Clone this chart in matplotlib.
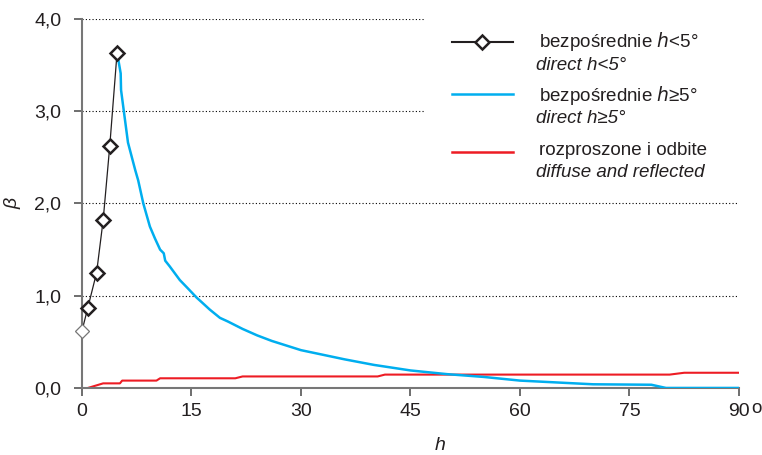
import matplotlib.pyplot as plt
import numpy as np

plt.rcParams['font.family'] = ['Liberation Sans', 'DejaVu Sans']

# bezpośrednie h<5°
h_low = [0.0, 0.8, 2.0, 2.9, 3.8, 4.8]
beta_low = [0.62, 0.87, 1.25, 1.82, 2.62, 3.63]

# bezpośrednie h>=5°
h_dir = [4.95, 5.3, 5.35, 5.9, 6.3, 7.3, 7.7, 8.4, 9.3, 10.0, 10.7, 11.2, 11.4,
         12.0, 13.4, 14.5, 15.7, 16.4, 17.5, 18.9, 20.0, 22.0, 24.0, 26.0, 28.0,
         30.0, 33.0, 36.0, 40.0, 45.0, 50.0, 55.0, 60.0, 65.0, 70.0, 78.0, 80.0, 90.0]
beta_dir = [3.57, 3.41, 3.23, 2.90, 2.66, 2.36, 2.25, 2.00, 1.75, 1.62, 1.50, 1.46,
            1.38, 1.32, 1.17, 1.08, 0.98, 0.93, 0.85, 0.76, 0.72, 0.64, 0.57, 0.51,
            0.46, 0.41, 0.36, 0.31, 0.25, 0.19, 0.15, 0.12, 0.08, 0.06, 0.04, 0.035,
            0.0, 0.0]

# rozproszone i odbite
h_dif = [0.8, 2.9, 5.2, 5.5, 10.2, 10.7, 21.0, 22.0, 40.5, 41.5, 80.5, 82.5, 90.0]
beta_dif = [0.0, 0.05, 0.05, 0.08, 0.08, 0.105, 0.105, 0.125, 0.125, 0.145, 0.145,
            0.165, 0.165]

x_ticks = [0, 15, 30, 45, 60, 75, 90]
y_ticks = [0.0, 1.0, 2.0, 3.0, 4.0]

blue = '#00AEEF'
red = '#ED1C24'
dark = '#231F20'

fig = plt.figure(figsize=(7.62, 4.55), dpi=100)
ax = fig.add_axes([0.1076, 0.1473, 0.8622, 0.811])

# siatka: górne linie kończą się przed legendą
ax.hlines([1.0, 2.0], 0, 90, colors='k', linestyles=(0, (1, 2)), linewidth=0.8, zorder=0)
ax.hlines([3.0, 4.0], 0, 47, colors='k', linestyles=(0, (1, 2)), linewidth=0.8, zorder=0)

ax.plot(h_dif, beta_dif, color=red, linewidth=1.5, zorder=2)
ax.plot(h_dir, beta_dir, color=blue, linewidth=1.8, zorder=3)
ax.plot(h_low, beta_low, color=dark, linewidth=0.9, zorder=4)
ax.plot(h_low[1:], beta_low[1:], linestyle='none', marker='D', markersize=7,
        markerfacecolor='white', markeredgecolor=dark, markeredgewidth=1.8,
        zorder=5, clip_on=False)
ax.plot(h_low[:1], beta_low[:1], linestyle='none', marker='D', markersize=7,
        markerfacecolor='white', markeredgecolor='#777777', markeredgewidth=0.9,
        zorder=5, clip_on=False)

ax.set_xlim(0, 90)
ax.set_ylim(0, 4)
ax.set_xticks(x_ticks)
ax.set_xticklabels([str(t) for t in x_ticks])
ax.set_yticks(y_ticks)
ax.set_yticklabels([f'{t:.1f}'.replace('.', ',') for t in y_ticks])
ax.tick_params(axis='both', labelsize=14, labelcolor=dark, color='#555555',
               length=6, width=1.2, direction='out')
ax.tick_params(axis='y', pad=9)
ax.tick_params(axis='x', pad=5)
for s in ['top', 'right']:
    ax.spines[s].set_visible(False)
for s in ['left', 'bottom']:
    ax.spines[s].set_color('#777777')
    ax.spines[s].set_linewidth(1.5)

ax.set_xlabel('h', fontsize=14, style='italic', color=dark)
ax.xaxis.set_label_coords(0.545, -0.168)
ax.xaxis.label.set_va('baseline')
ax.set_ylabel('β', fontsize=14, style='italic', color=dark, labelpad=9)
ax.text(1.018, -0.055, 'o', transform=ax.transAxes, fontsize=13.5, color=dark,
        ha='left', va='center')

# legenda
def to_ax(px, py):
    return (px - 82) / 657, (388 - py) / 369

entries = [
    ('bezpośrednie $\\it{h}$<5°', 'direct h<5°', dark, True, 42, 47, 70),
    ('bezpośrednie $\\it{h}$≥5°', 'direct h≥5°', blue, False, 94, 101, 123),
    ('rozproszone i odbite', 'diffuse and reflected', red, False, 152, 155, 177),
]
for top, bottom, col, mark, py, base1, base2 in entries:
    x0, y0 = to_ax(452, py)
    x1, _ = to_ax(513, py)
    ax.plot([x0, x1], [y0, y0], color=col, transform=ax.transAxes,
            linewidth=1.8 if not mark else 1.5, clip_on=False)
    if mark:
        ax.plot([(x0 + x1) / 2], [y0], transform=ax.transAxes, marker='D',
                markersize=7, markerfacecolor='white', markeredgecolor=dark,
                markeredgewidth=1.8, clip_on=False)
    tx, ty = to_ax(539, base1)
    ax.text(tx, ty, top, transform=ax.transAxes, fontsize=13.5, color=dark,
            ha='left', va='baseline')
    tx2, ty2 = to_ax(536, base2)
    ax.text(tx2, ty2, bottom, transform=ax.transAxes, fontsize=13.5, color=dark,
            ha='left', va='baseline', style='italic')

fig.savefig('out.png', dpi=100)
